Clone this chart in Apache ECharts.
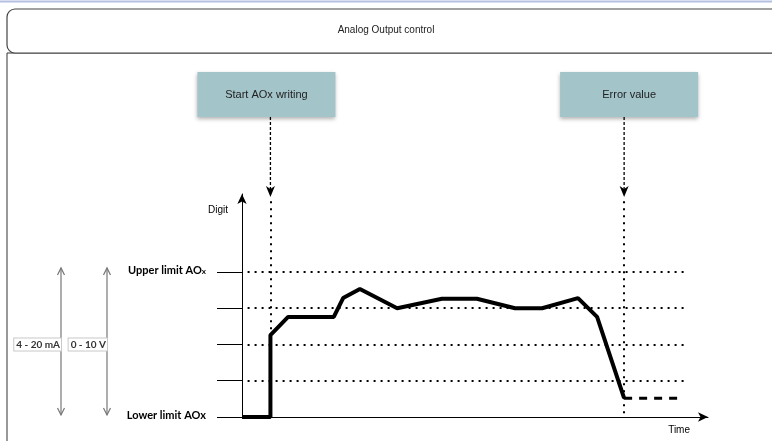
<!DOCTYPE html>
<html>
<head>
<meta charset="utf-8">
<title>Analog Output control</title>
<script src="https://cdn.jsdelivr.net/npm/echarts@6/dist/echarts.min.js"></script>
<style>
    html, body { margin: 0; padding: 0; background: #fff; }
    #main { width: 772px; height: 441px; }
</style>
</head>
<body>
<div id="main"></div>
<script>
// 数据
var titleText = "Analog Output control";
var curveTime = [0, 6.1, 6.1, 9.9, 19.7, 21.7, 25.3, 33.3, 42.9, 50.4, 58.6, 64.4, 72.1, 76.2, 82.0];
var curveDigit = [0, 0, 2.26, 2.76, 2.76, 3.28, 3.53, 3.0, 3.26, 3.26, 3.0, 3.0, 3.28, 2.76, 0.52];
var holdTime = [82.0, 94.4];
var holdDigit = [0.52, 0.52];
var gridLevels = [1, 2, 3, 4];
var tickLevels = [0, 1, 2, 3, 4];
var gridStart = 1.2;
var gridEnd = 95.7;
var limitValues = [0, 4];
var eventNames = ["Start AOx writing", "Error value"];
var eventTimes = [6.1, 82.0];
var eventStops = [2.26, 0];
var eventTop = 5.95;
var rangeNames = ["4 - 20 mA", "0 - 10 V"];

(function () {
    var myChart = echarts.init(document.getElementById("main"));

    function pairs(xs, ys) {
        return xs.map(function (x, i) { return [x, ys[i]]; });
    }

    // 点线样式
    var dotStyle = { color: "#000", width: 2, type: [2, 5] };

    var markData = gridLevels.map(function (l) {
        return [{ coord: [gridStart, l] }, { coord: [gridEnd, l] }];
    }).concat(eventTimes.map(function (t, i) {
        return [{ coord: [t, eventTop] }, { coord: [t, eventStops[i]] }];
    }));

    var option = {
        animation: false,
        grid: { left: 242, right: 64, top: 194, bottom: 24 },
        xAxis: {
            type: "value",
            min: 0,
            max: 100,
            name: "Time",
            nameLocation: "end",
            nameGap: -18,
            nameTextStyle: {
                color: "#000", fontSize: 10, fontFamily: "Liberation Sans",
                align: "right", verticalAlign: "top", padding: [8, 0, 0, 0]
            },
            axisLine: {
                show: true, onZero: false,
                symbol: ["none", "arrow"], symbolSize: [7, 10],
                lineStyle: { color: "#000", width: 1 }
            },
            axisTick: { show: false },
            axisLabel: { show: false },
            splitLine: { show: false }
        },
        yAxis: {
            type: "value",
            min: 0,
            max: 6.15,
            name: "Digit",
            nameLocation: "end",
            nameGap: -16,
            nameTextStyle: {
                color: "#000", fontSize: 10, fontFamily: "Liberation Sans",
                align: "right", verticalAlign: "middle", padding: [0, 14, 0, 0]
            },
            axisLine: {
                show: true, onZero: false,
                symbol: ["none", "arrow"], symbolSize: [7, 10],
                lineStyle: { color: "#000", width: 1 }
            },
            axisTick: {
                show: true, inside: false, length: 25,
                customValues: tickLevels,
                lineStyle: { color: "#000", width: 1 }
            },
            axisLabel: {
                show: true,
                customValues: limitValues,
                margin: 36,
                padding: [0, 0, 6, 0],
                formatter: function (v) {
                    return v === 4 ? "{b|Upper limit AO}{s|x}" : "{b|Lower limit AOx}";
                },
                rich: {
                    b: { fontFamily: "Lato", fontWeight: "bold", fontSize: 11, color: "#000", lineHeight: 14, verticalAlign: "bottom" },
                    s: { fontFamily: "Lato", fontWeight: "bold", fontSize: 8, color: "#000", lineHeight: 14, verticalAlign: "bottom", padding: [0, 0, 1, 0] }
                }
            },
            splitLine: { show: false }
        },
        series: [
            {
                // 错误后保持值
                name: "hold",
                type: "line",
                data: pairs(holdTime, holdDigit),
                symbol: "none",
                silent: true,
                z: 2,
                lineStyle: { color: "#000", width: 3, type: [8, 7] },
                markLine: {
                    silent: true,
                    symbol: ["none", "none"],
                    label: { show: false },
                    lineStyle: dotStyle,
                    emphasis: { disabled: true },
                    data: markData
                }
            },
            {
                name: "AO",
                type: "line",
                data: pairs(curveTime, curveDigit),
                symbol: "none",
                silent: true,
                z: 3,
                lineStyle: { color: "#000", width: 4 }
            }
        ]
    };

    myChart.setOption(option);

    // 标注框、箭头等
    function px(t, v) {
        return myChart.convertToPixel({ gridIndex: 0 }, [t, v]);
    }

    var g = [];
    g.push({ type: "line", shape: { x1: 0, y1: 1.5, x2: 772, y2: 1.5 }, style: { stroke: "#b4c0e2", lineWidth: 2 }, z: 10 });
    g.push({ type: "rect", shape: { x: 7, y: 53, width: 800, height: 420 }, style: { fill: "none", stroke: "#333", lineWidth: 1 }, z: 10 });
    g.push({ type: "rect", shape: { x: 7, y: 9, width: 800, height: 44, r: 8 }, style: { fill: "#fff", stroke: "#444", lineWidth: 1.2 }, z: 10 });
    g.push({
        type: "text", z: 11,
        style: { text: titleText, x: 386, y: 30, align: "center", verticalAlign: "middle", font: '10px "Liberation Sans"', fill: "#222" }
    });

    var boxShift = [-4, 5];
    eventNames.forEach(function (name, i) {
        var cx = px(eventTimes[i], 0)[0];
        var bx = cx + boxShift[i];
        g.push({
            type: "rect", z: 10,
            shape: { x: bx - 69, y: 72, width: 138, height: 45 },
            style: { fill: "#a3c4c9", shadowBlur: 4, shadowOffsetY: 2, shadowColor: "rgba(0,0,0,0.3)" }
        });
        g.push({
            type: "text", z: 11,
            style: { text: name, x: bx, y: 95, align: "center", verticalAlign: "middle", font: '11px "Liberation Sans"', fill: "#222" }
        });
        g.push({
            type: "line", z: 10,
            shape: { x1: cx, y1: 117, x2: cx, y2: 189 },
            style: { stroke: "#000", lineWidth: 1.3, lineDash: [3, 2] }
        });
        g.push({
            type: "polygon", z: 10,
            shape: { points: [[cx - 4.5, 186], [cx, 189], [cx + 4.5, 186], [cx, 197]] },
            style: { fill: "#000" }
        });
    });

    // 左侧量程双箭头
    var yTop = px(0, 4)[1] - 4;
    var yBot = px(0, 0)[1] - 2;
    var yMid = (px(0, 2)[1]);
    var arrowX = [61, 107];
    rangeNames.forEach(function (name, i) {
        var x = arrowX[i];
        g.push({ type: "line", z: 10, shape: { x1: x, y1: yTop, x2: x, y2: yBot }, style: { stroke: "#777", lineWidth: 1.2 } });
        g.push({ type: "polyline", z: 10, shape: { points: [[x - 3.5, yTop + 7], [x, yTop], [x + 3.5, yTop + 7]] }, style: { stroke: "#777", lineWidth: 1.2, fill: null } });
        g.push({ type: "polyline", z: 10, shape: { points: [[x - 3.5, yBot - 7], [x, yBot], [x + 3.5, yBot - 7]] }, style: { stroke: "#777", lineWidth: 1.2, fill: null } });
        g.push({
            type: "text", z: 11,
            style: {
                text: name, x: x, y: yMid, align: "right", verticalAlign: "middle",
                font: 'bold 10px Lato', fill: "#333",
                backgroundColor: "#fff", borderColor: "#c8c8c8", borderWidth: 1, padding: [1, 1, 1, 2]
            }
        });
    });

    myChart.setOption({ graphic: g });

    window.addEventListener("resize", function () {
        myChart.resize();
    });
})();
</script>
</body>
</html>
